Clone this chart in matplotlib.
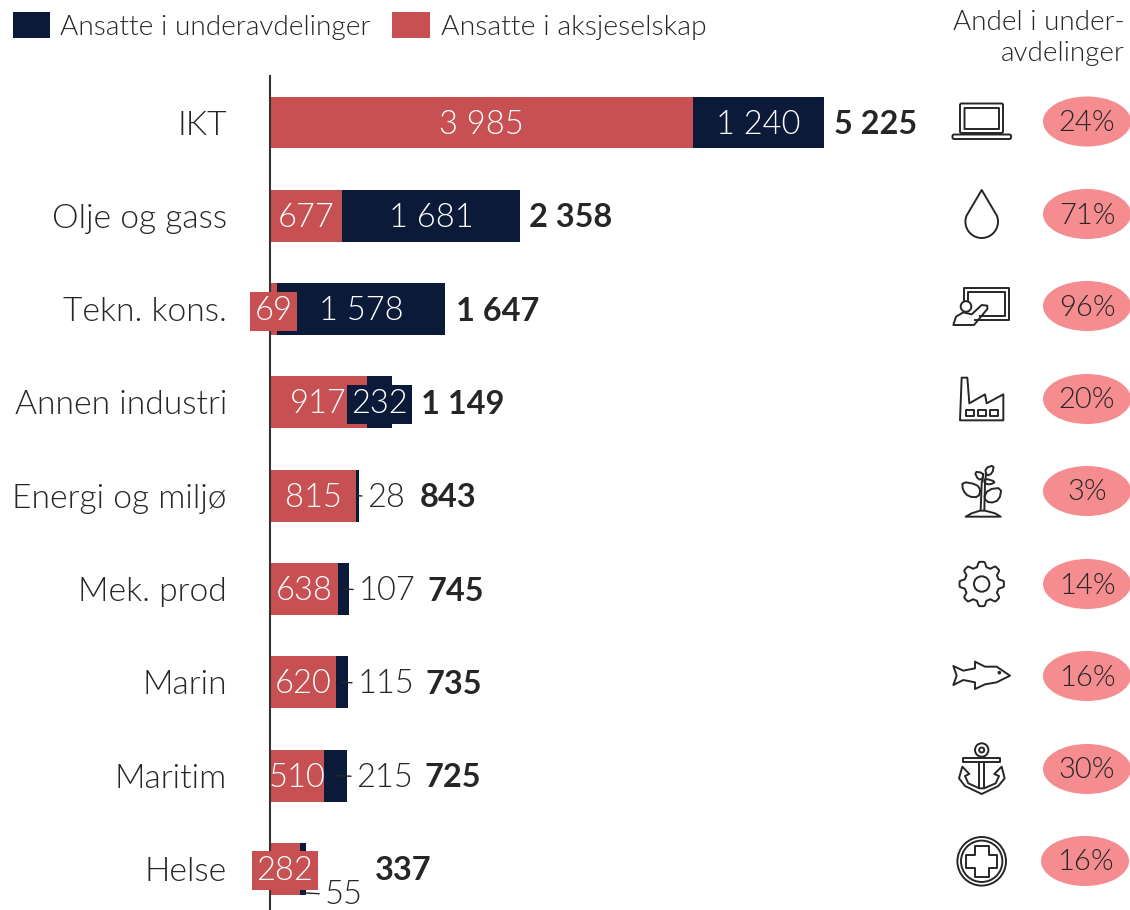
import numpy as np
import matplotlib
matplotlib.use("Agg")
import matplotlib.pyplot as plt
from matplotlib.patches import Rectangle, Ellipse, Circle, Polygon, FancyBboxPatch

plt.rcParams['font.family'] = ['Lato', 'DejaVu Sans']

# data
categories = ["IKT", "Olje og gass", "Tekn. kons.", "Annen industri", "Energi og miljø",
              "Mek. prod", "Marin", "Maritim", "Helse"]
aksjeselskap = [3985, 677, 69, 917, 815, 638, 620, 510, 282]
underavdeling = [1240, 1681, 1578, 232, 28, 107, 115, 215, 55]
totals = [5225, 2358, 1647, 1149, 843, 745, 735, 725, 337]
andel = [24, 71, 96, 20, 3, 14, 16, 30, 16]

RED = "#C75053"
NAVY = "#0B1A38"
PINK = "#F48C90"
DARK = "#262626"

W, H = 1130, 910
PX_PER_UNIT = 0.1061
ROW = 93.3
FS = 23.5


def fmt(v):
    return f"{v:,}".replace(",", " ")


fig = plt.figure(figsize=(W / 100, H / 100), dpi=100)

# main axes, left spine is the zero line
ax = fig.add_axes([270 / W, 0, (W - 270) / W, (H - 76) / H])
ax.set_xlim(0, (W - 270) / PX_PER_UNIT)
ax.set_ylim((H - 122.5) / ROW, (76 - 122.5) / ROW)
y = np.arange(len(categories))
ax.barh(y, aksjeselskap, height=0.557, color=RED)
ax.barh(y, underavdeling, left=aksjeselskap, height=0.557, color=NAVY)
for s in ["top", "right", "bottom"]:
    ax.spines[s].set_visible(False)
ax.spines["left"].set_linewidth(1.5)
ax.spines["left"].set_color("#333333")
ax.set_xticks([])
ax.set_yticks(y)
ax.set_yticklabels(categories, fontsize=24.2, fontweight=300, color=DARK)
ax.tick_params(axis="y", length=0, pad=31)

# labels inside the bars, the narrow ones get a box
for i in y:
    a, b = aksjeselskap[i], underavdeling[i]
    box = dict(facecolor=RED, edgecolor="none", pad=3.2) if a in (69, 282) else None
    ax.annotate(fmt(a), xy=(a / 2, i), xytext=(0, -2), textcoords="offset pixels", ha="center", va="center",
                color="white", fontsize=FS, fontweight=300, bbox=box, zorder=5)
    if b >= 232:
        box = dict(facecolor=NAVY, edgecolor="none", pad=3.2) if b == 232 else None
        ax.annotate(fmt(b), xy=(a + b / 2, i), xytext=(0, -2), textcoords="offset pixels", ha="center", va="center",
                    color="white", fontsize=FS, fontweight=300, bbox=box, zorder=6)

# small values outside the bars with a leader line
small_dx = [27, 38, 38, 38, 38]
for n, i in enumerate([4, 5, 6, 7, 8]):
    a, b = aksjeselskap[i], underavdeling[i]
    lead = 24 if i == 8 else 0
    ax.annotate(fmt(b), xy=(a + b / 2, i + lead / ROW), xycoords="data",
                xytext=(small_dx[n] + (b / 2) * PX_PER_UNIT, -2), textcoords="offset pixels",
                ha="center", va="center", fontsize=FS, fontweight=300, color=DARK,
                arrowprops=dict(arrowstyle="-", color=DARK, lw=1, shrinkA=2, shrinkB=0))

# totals
total_gap = [10, 9, 11, 29, 60, 78, 78, 78, 69]
for i in y:
    ax.annotate(fmt(totals[i]), xy=(totals[i], i), xytext=(total_gap[i], -2), textcoords="offset pixels",
                ha="left", va="center", fontsize=23.4, fontweight="bold", color=DARK)

# overlay in pixels for legend, pills and icons
ov = fig.add_axes([0, 0, 1, 1], zorder=3)
ov.set_xlim(0, W)
ov.set_ylim(H, 0)
ov.axis("off")
ov.patch.set_alpha(0)

ov.add_patch(Rectangle((13, 12), 37, 26, color=NAVY, lw=0))
ov.add_patch(Rectangle((392, 12), 38, 26, color=RED, lw=0))
ov.text(60, 27, "Ansatte i underavdelinger", fontsize=20.2, fontweight=300, color=DARK, va="center")
ov.text(441, 27, "Ansatte i aksjeselskap", fontsize=20.4, fontweight=300, color=DARK, va="center")
ov.text(1125, 23, "Andel i under-", fontsize=20.1, fontweight=300, color=DARK, va="center", ha="right")
ov.text(1125, 54, "avdelinger", fontsize=20.1, fontweight=300, color=DARK, va="center", ha="right")

pill_y = [121.5, 214, 306, 399, 491, 584, 676, 769, 861]
for i, p in enumerate(andel):
    cx = 1085 if i == 8 else 1087
    ov.add_patch(Ellipse((cx, pill_y[i]), 88, 50, color=PINK, lw=0, clip_on=False))
    ov.text(cx, pill_y[i] + 1.5, f"{p}%", ha="center", va="center", fontsize=21, fontweight=300, color=DARK)

# icons in pixels
LW = 1.4
ik = dict(fill=False, edgecolor=DARK, lw=LW, joinstyle="round")


def z1(pts):
    return [(930 + x / 3, 85 + y / 3) for x, y in pts]


def z2(pts):
    return [(930 + x / 3, 450 + y / 3) for x, y in pts]


def smooth(pts, rounds=2):
    # corner cutting so traced outlines look curved
    p = np.array(pts, float)
    for _ in range(rounds):
        q = np.roll(p, -1, axis=0)
        p = np.column_stack([0.75 * p + 0.25 * q, 0.25 * p + 0.75 * q]).reshape(-1, 2)
    return p


def rbox(x0, y0, x1, y1, r=1.5):
    ov.add_patch(FancyBboxPatch((x0 + r, y0 + r), x1 - x0 - 2 * r, y1 - y0 - 2 * r,
                                boxstyle=f"round,pad={r},rounding_size={r}", **ik))


# laptop
rbox(960, 103.5, 1003, 133)
rbox(964.5, 108, 999, 129, r=0.1)
rbox(952.5, 134.5, 1011, 139, r=1.5)

# drop
t = np.linspace(np.radians(-22), np.radians(202), 40)
drop = [(981.7, 190)] + [(981.7 + 16.3 * np.cos(a), 221.7 + 16.3 * np.sin(a)) for a in t]
ov.add_patch(Polygon(drop, closed=True, **ik))

# teacher at a board
ov.plot(*zip(*z1([(103, 650), (103, 608), (238, 608), (238, 705), (135, 705)])), color=DARK, lw=LW)
ov.plot(*zip(*z1([(115, 645), (115, 620), (226, 620), (226, 693), (150, 693)])), color=DARK, lw=LW)
ov.add_patch(Circle((966, 306.5), 5.3, facecolor="white", edgecolor=DARK, lw=LW, zorder=4))
ov.add_patch(Polygon(z1([(70, 720), (78, 695), (100, 682), (125, 688), (155, 660), (172, 662),
                         (172, 672), (132, 720)]), closed=True, **ik))

# factory
ov.add_patch(Polygon(z1([(90, 1006), (95, 878), (112, 878), (118, 955), (165, 928), (170, 955),
                         (220, 928), (220, 1006)]), closed=True, **ik))
for x0 in [107, 143, 180]:
    ov.add_patch(Rectangle((930 + x0 / 3, 85 + 975 / 3), 8, 5.5, **ik))

# plant
leaves = [[(97, 95), (140, 103), (152, 120), (145, 142), (115, 140), (98, 120)],
          [(215, 113), (175, 118), (160, 145), (180, 160), (208, 150)],
          [(133, 65), (158, 68), (160, 85), (145, 90)],
          [(165, 55), (192, 45), (187, 70), (170, 78)],
          [(163, 85), (198, 95), (180, 104), (163, 100)]]
for leaf in leaves:
    ov.add_patch(Polygon(z2(smooth(leaf, 1)), closed=True, **ik))
ov.add_patch(Polygon(z2([(107, 200), (125, 190), (150, 182), (165, 182), (195, 190), (212, 200)]), closed=True, **ik))
ov.plot(*zip(*z2([(152, 180), (155, 100), (160, 72)])), color=DARK, lw=LW)
ov.plot(*zip(*z2([(163, 180), (165, 100), (168, 72)])), color=DARK, lw=LW)

# gear
t = np.linspace(0, 2 * np.pi, 321)
r = 19.8 + 2.4 * np.clip(1.8 * np.cos(8 * t), -1, 1)
ov.add_patch(Polygon(list(zip(981.7 + r * np.cos(t), 584 + r * np.sin(t))), closed=True, **ik))
ov.add_patch(Circle((981.7, 584), 7.7, **ik))

# fish
ov.add_patch(Polygon(z2([(70, 648), (100, 662), (135, 655), (135, 635), (165, 650), (200, 650),
                         (240, 677), (200, 697), (165, 703), (135, 717), (135, 697), (100, 690),
                         (70, 705), (80, 677)]), closed=True, **ik))
ov.add_patch(Circle((930 + 208 / 3, 450 + 668 / 3), 1.8, color=DARK, lw=0))

# anchor
ov.add_patch(Circle((981.7, 750), 6.7, **ik))
ov.add_patch(Circle((981.7, 750), 2.5, **ik))
ov.add_patch(Rectangle((963.3, 757.7), 36.7, 4.7, **ik))
ov.plot(*zip(*z2([(148, 937), (148, 1015)])), color=DARK, lw=LW)
ov.plot(*zip(*z2([(162, 937), (162, 1015)])), color=DARK, lw=LW)
ov.add_patch(Polygon(z2([(97, 950), (118, 972), (105, 978), (115, 1000), (148, 1015), (162, 1015),
                         (197, 1000), (207, 978), (193, 972), (215, 950), (224, 985), (205, 1008),
                         (155, 1032), (105, 1008), (87, 985)]), closed=True, **ik))

# cross in a ring
ov.add_patch(Circle((981.7, 861.3), 24.3, **ik))
ov.add_patch(Circle((981.7, 861.3), 20.7, **ik))
c, h, l = (981.7, 861.3), 6.8, 15.7
ov.add_patch(Polygon([(c[0] - h, c[1] - l), (c[0] + h, c[1] - l), (c[0] + h, c[1] - h), (c[0] + l, c[1] - h),
                      (c[0] + l, c[1] + h), (c[0] + h, c[1] + h), (c[0] + h, c[1] + l), (c[0] - h, c[1] + l),
                      (c[0] - h, c[1] + h), (c[0] - l, c[1] + h), (c[0] - l, c[1] - h), (c[0] - h, c[1] - h)],
                     closed=True, **ik))

fig.savefig("out.png", dpi=100)
